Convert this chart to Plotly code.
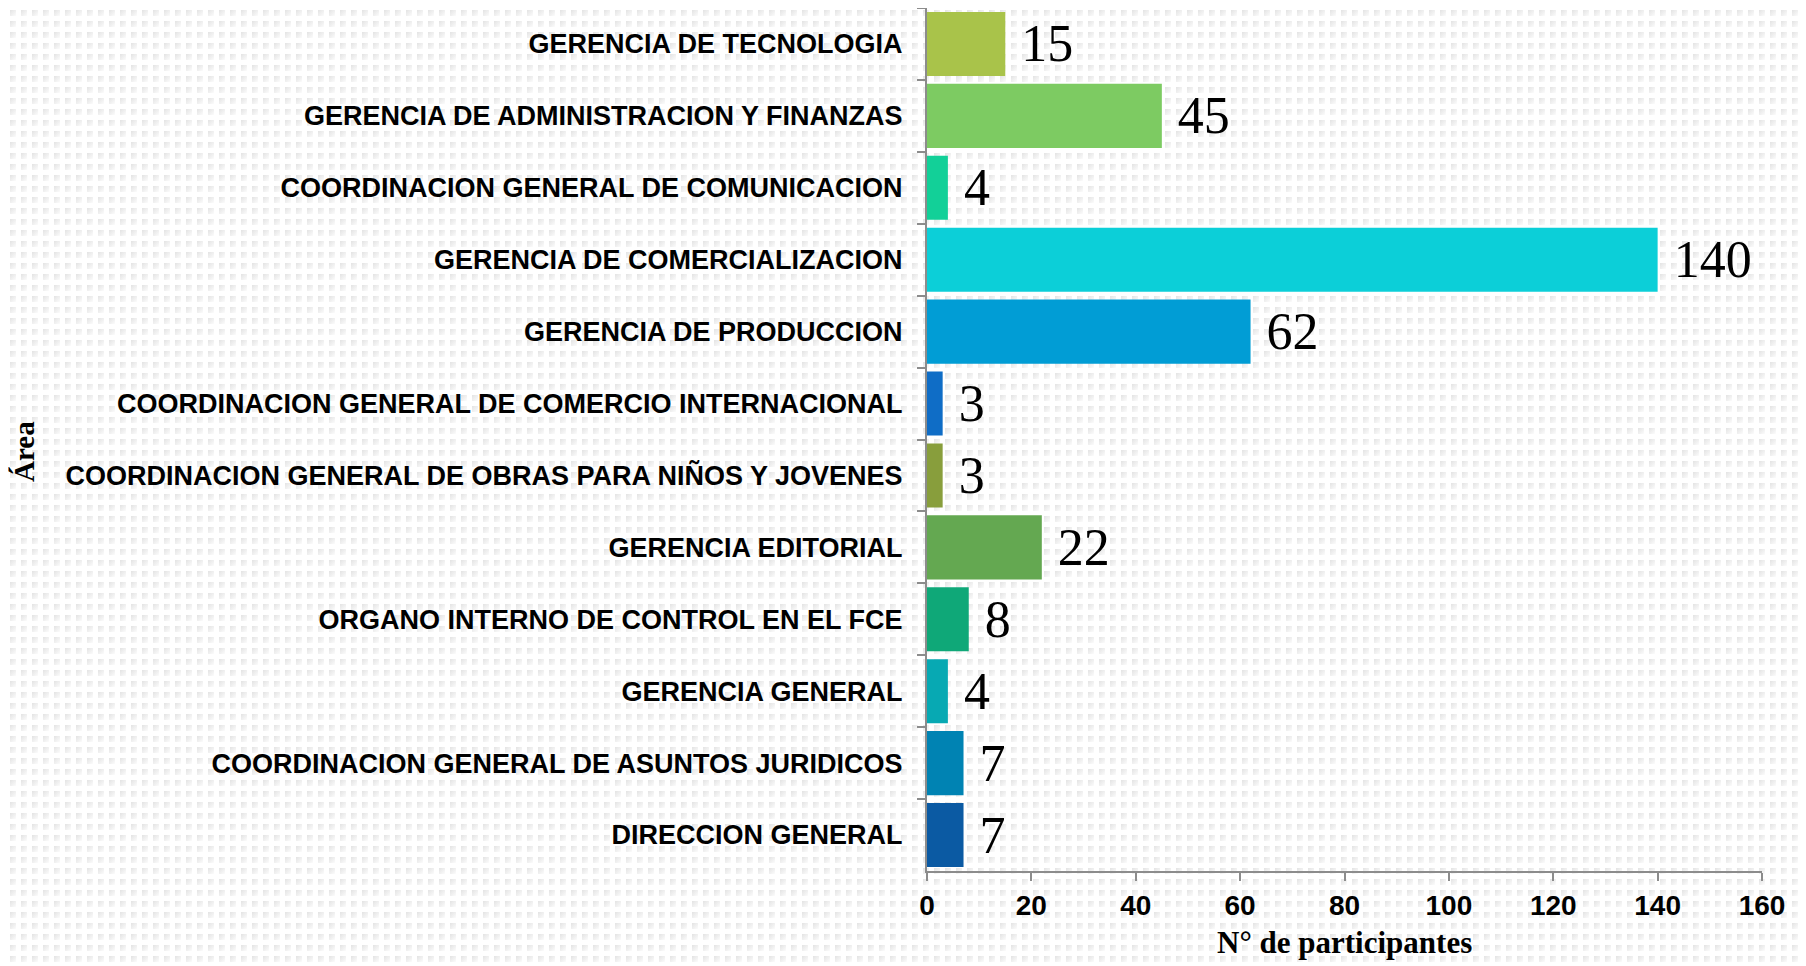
import base64
import plotly.graph_objects as go

# data, listed top to bottom as in the chart
areas = [
    "GERENCIA DE TECNOLOGIA",
    "GERENCIA DE ADMINISTRACION Y FINANZAS",
    "COORDINACION GENERAL DE COMUNICACION",
    "GERENCIA DE COMERCIALIZACION",
    "GERENCIA DE PRODUCCION",
    "COORDINACION GENERAL DE COMERCIO INTERNACIONAL",
    "COORDINACION GENERAL DE OBRAS PARA NIÑOS Y JOVENES",
    "GERENCIA EDITORIAL",
    "ORGANO INTERNO DE CONTROL EN EL FCE",
    "GERENCIA GENERAL",
    "COORDINACION GENERAL DE ASUNTOS JURIDICOS",
    "DIRECCION GENERAL",
]
participantes = [15, 45, 4, 140, 62, 3, 3, 22, 8, 4, 7, 7]
colores = [
    "#a9c34a", "#7dcb62", "#12d098", "#0ccfd8", "#019dd5", "#0f6dc6",
    "#889e3c", "#64a851", "#0fa878", "#07a9b3", "#0083b3", "#0b5aa3",
]
x_ticks = [0, 20, 40, 60, 80, 100, 120, 140, 160]

# the page body adds an 8px margin, so the figure is placed from there
OFF = 8
W, H = 1806 - OFF, 966 - OFF
L, T = 927 - OFF, 0
R = W - (1762 - OFF)
B = H - (871 - OFF)
pw, ph = W - L - R, H - T - B

# dotted paper background
svg = (
    f"<svg xmlns='http://www.w3.org/2000/svg' width='{W}' height='{H}'>"
    "<defs><linearGradient id='g' x1='0' y1='0' x2='1' y2='1'>"
    "<stop offset='0' stop-color='#e3e3e3'/><stop offset='1' stop-color='#fcfcfc'/>"
    "</linearGradient>"
    "<pattern id='p' width='11' height='11' patternUnits='userSpaceOnUse'>"
    "<rect x='2' y='2' width='6' height='6' fill='url(#g)'/></pattern></defs>"
    "<rect width='100%' height='100%' fill='#ffffff'/>"
    "<rect width='100%' height='100%' fill='url(#p)'/></svg>"
)
bg = "data:image/svg+xml;base64," + base64.b64encode(svg.encode()).decode()


def px_x(x):
    return (x - OFF - L) / pw


def px_y(y):
    return 1 - (y - OFF - T) / ph


fig = go.Figure(go.Bar(
    x=participantes, y=areas, orientation="h",
    marker=dict(color=colores, line=dict(width=0)),
    text=participantes, texttemplate=" %{x}", textposition="outside",
    textfont=dict(family="Liberation Serif, DejaVu Serif, serif", size=52, color="#000"),
    constraintext="none", cliponaxis=False,
))

fig.update_layout(
    width=W, height=H,
    margin=dict(l=L, r=R, t=T, b=B),
    paper_bgcolor="white", plot_bgcolor="rgba(0,0,0,0)",
    bargap=0.11, showlegend=False,
    images=[dict(
        source=bg, xref="paper", yref="paper",
        x=-L / pw, y=1 + T / ph, sizex=W / pw, sizey=H / ph,
        xanchor="left", yanchor="top", sizing="stretch", layer="below",
    )],
    xaxis=dict(
        range=[0, 160], tickvals=x_ticks, showgrid=False, zeroline=False,
        showline=True, linecolor="#8c8c8c", linewidth=2,
        ticks="outside", ticklen=8, tickcolor="#8c8c8c", tickwidth=2,
        ticklabelstandoff=0,
        tickfont=dict(family="Liberation Sans, Arial, sans-serif", size=28,
                      color="#000", weight="bold"),
    ),
    yaxis=dict(
        autorange="reversed", showgrid=False, zeroline=False,
        showline=True, linecolor="#8c8c8c", linewidth=2,
        ticks="outside", ticklen=8, tickcolor="#8c8c8c", tickwidth=2,
        tickson="boundaries", ticklabelstandoff=17,
        tickfont=dict(family="Liberation Sans, Arial, sans-serif", size=27,
                      color="#000", weight="bold"),
    ),
    annotations=[
        dict(text="N° de participantes", xref="paper", yref="paper",
             x=0.5, y=px_y(942), xanchor="center", yanchor="middle",
             showarrow=False,
             font=dict(family="Liberation Serif, DejaVu Serif, serif", size=31,
                       color="#000", weight="bold")),
        dict(text="Área", xref="paper", yref="paper",
             x=px_x(24), y=px_y(452), xanchor="center", yanchor="middle",
             textangle=-90, showarrow=False,
             font=dict(family="Liberation Serif, DejaVu Serif, serif", size=29,
                       color="#000", weight="bold")),
    ],
)

fig.write_html("out.html")
